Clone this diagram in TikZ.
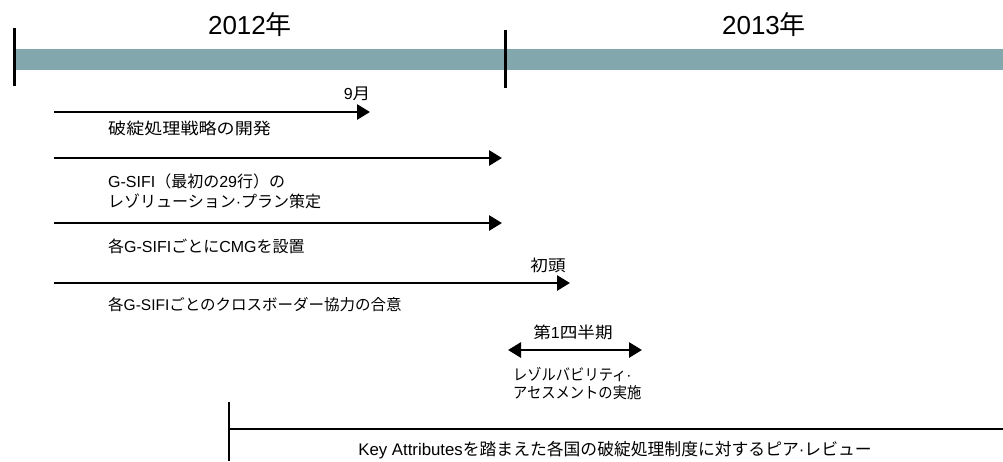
\documentclass[tikz,border=0pt]{standalone}
\usepackage{fontspec}
\setmainfont{Liberation Sans}
\newfontfamily\jp[FakeStretch=1.1]{Noto Sans CJK JP}
\newfontfamily\jpw[FakeStretch=1.13]{Noto Sans CJK JP}
\newfontfamily\jpc[FakeStretch=0.92]{Noto Sans CJK JP}
\newfontfamily\jpn{Noto Sans CJK JP}
\usetikzlibrary{arrows.meta}
\definecolor{barcol}{HTML}{82A8AD}
\tikzset{
  tick/.style={line width=3pt, draw=black},
  arr/.style={line width=2.8pt, -{Triangle[length=13pt,width=15pt]}},
  darr/.style={line width=2.8pt, {Triangle[length=13pt,width=15pt]}-{Triangle[length=13pt,width=15pt]}},
  plain/.style={line width=2.8pt},
  lbl/.style={anchor=west, inner sep=0pt, font=\fontsize{16}{20}\selectfont},
  slbl/.style={anchor=west, inner sep=0pt, font=\fontsize{15.5}{18}\selectfont},
  clbl/.style={anchor=center, inner sep=0pt, font=\fontsize{16}{20}\selectfont},
  blbl/.style={anchor=center, inner sep=0pt, font=\fontsize{16.8}{20}\selectfont},
  year/.style={anchor=center, inner sep=0pt, font=\fontsize{26}{30}\selectfont},
}
\begin{document}
\begin{tikzpicture}[x=1pt,y=-1pt]
\useasboundingbox (0,0) rectangle (1003,461);
% bar
\fill[barcol] (14,49) rectangle (1003,70);
\coordinate (t1a) at (14,28); \coordinate (t1b) at (14,86);
\coordinate (t2a) at (505,30); \coordinate (t2b) at (505,88);
\draw[tick] (t1a) -- (t1b);
\draw[tick] (t2a) -- (t2b);
\node[year] (y1) at (250,25) {2012{\jpn 年}};
\node[year] (y2) at (764,25) {2013{\jpn 年}};
% arrow 1
\coordinate (a1s) at (54,112); \coordinate (a1e) at (370,112);
\draw[arr] (a1s) -- (a1e);
\node[clbl] (m1) at (357,94) {9{\jp 月}};
\node[lbl] (l1) at (108,128) {\jpw 破綻処理戦略の開発};
% arrow 2
\coordinate (a2s) at (54,158); \coordinate (a2e) at (502,158);
\draw[arr] (a2s) -- (a2e);
\node[lbl] (l2a) at (108,181) {G-SIFI{\jpn （最初の}29{\jpn 行）の}};
\node[lbl] (l2b) at (108,201) {{\jpn レゾリューション}·{\jpn プラン策定}};
% arrow 3
\coordinate (a3s) at (54,223); \coordinate (a3e) at (502,223);
\draw[arr] (a3s) -- (a3e);
\node[lbl] (l3) at (108,246) {{\jpn 各}G-SIFI{\jpn ごとに}CMG{\jpn を設置}};
% arrow 4
\coordinate (a4s) at (54,283); \coordinate (a4e) at (570,283);
\draw[arr] (a4s) -- (a4e);
\node[clbl] (m4) at (548,265) {\jp 初頭};
\node[lbl, font=\fontsize{15.5}{20}\selectfont] (l4) at (108,305) {{\jpn 各}G-SIFI{\jpn ごとのクロスボーダー協力の合意}};
% double arrow
\coordinate (a5s) at (508,350); \coordinate (a5e) at (642,350);
\draw[darr] (a5s) -- (a5e);
\node[clbl] (m5) at (573,332) {{\jp 第}1{\jp 四半期}};
\node[slbl] (l5a) at (513,374) {{\jpc レゾルバビリティ}·};
\node[slbl] (l5b) at (513,393) {\jpc アセスメントの実施};
% bottom
\coordinate (bv1) at (229,402); \coordinate (bv2) at (229,461);
\coordinate (bh1) at (229,429); \coordinate (bh2) at (1003,429);
\draw[plain] (bv1) -- (bv2);
\draw[plain] (bh1) -- (bh2);
\node[blbl] (lb) at (615,450) {Key Attributes{\jpn を踏まえた各国の破綻処理制度に対するピア}·{\jpn レビュー}};
\end{tikzpicture}
\end{document}
